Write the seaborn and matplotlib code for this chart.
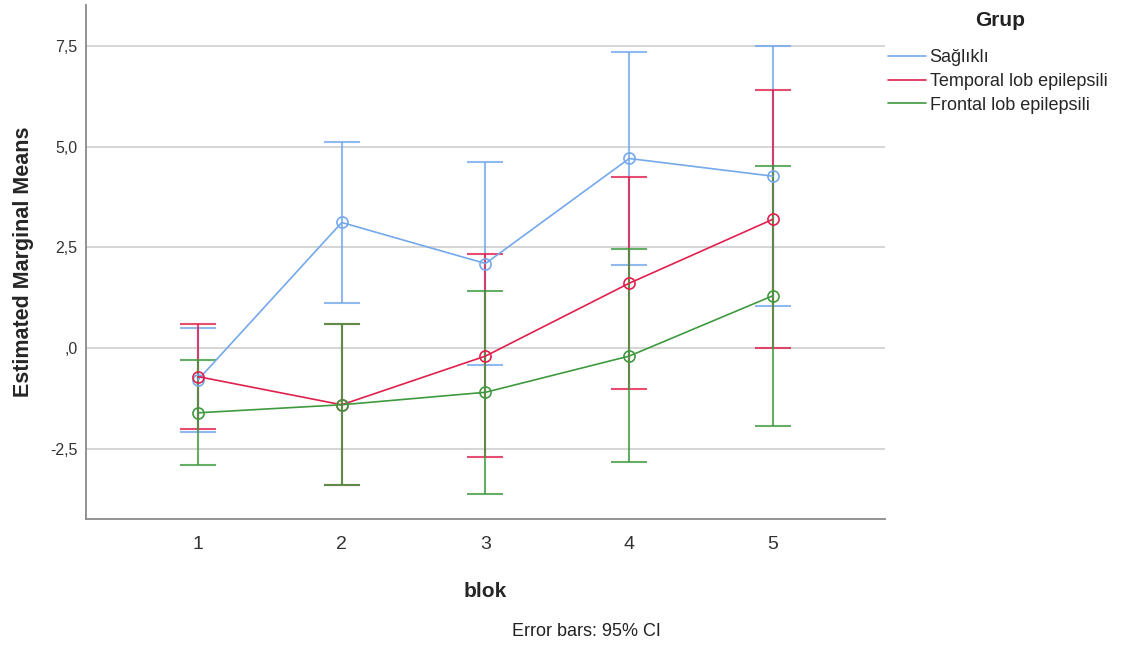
import pandas as pd
import seaborn as sns
import matplotlib.pyplot as plt
from matplotlib.lines import Line2D

# ----------------------------
# DATA
# ----------------------------
blok = [1, 2, 3, 4, 5]
groups = ["Sağlıklı", "Temporal lob epilepsili", "Frontal lob epilepsili"]

saglikli_mean = [-0.79, 3.12, 2.10, 4.71, 4.27]
saglikli_low = [-2.09, 1.12, -0.42, 2.07, 1.04]
saglikli_high = [0.51, 5.11, 4.63, 7.35, 7.50]

temporal_mean = [-0.71, -1.41, -0.20, 1.61, 3.20]
temporal_low = [-2.00, -3.40, -2.72, -1.03, -0.01]
temporal_high = [0.60, 0.60, 2.33, 4.24, 6.42]

frontal_mean = [-1.61, -1.41, -1.10, -0.20, 1.30]
frontal_low = [-2.90, -3.40, -3.62, -2.84, -1.93]
frontal_high = [-0.30, 0.60, 1.42, 2.45, 4.53]

colors = ["#74a9ec", "#e0204e", "#3f9a3f"]

means = [saglikli_mean, temporal_mean, frontal_mean]
lows = [saglikli_low, temporal_low, frontal_low]
highs = [saglikli_high, temporal_high, frontal_high]

df = pd.concat(
    [pd.DataFrame({"blok": blok, "mean": m, "low": lo, "high": hi, "Grup": g})
     for g, m, lo, hi in zip(groups, means, lows, highs)],
    ignore_index=True,
)

# ----------------------------
# PLOT
# ----------------------------
sns.set_style("white")
plt.rcParams["font.family"] = ["Liberation Sans", "DejaVu Sans"]

fig = plt.figure(figsize=(11.25, 6.48), dpi=100)
ax = fig.add_axes([0.0764, 0.199, 0.7103, 0.793])

for y in [-2.5, 0, 2.5, 5.0, 7.5]:
    ax.axhline(y, color="#d2d2d2", lw=1.3, zorder=0)

for g, c in zip(groups, colors):
    sub = df[df["Grup"] == g]
    ax.errorbar(sub["blok"], sub["mean"],
                yerr=[sub["mean"] - sub["low"], sub["high"] - sub["mean"]],
                fmt="none", ecolor=c, elinewidth=1.5, capsize=13,
                capthick=1.5, alpha=0.8, zorder=2)

for g, c in zip(groups, colors):
    sns.lineplot(data=df[df["Grup"] == g], x="blok", y="mean", color=c,
                 marker="o", markersize=8, markerfacecolor="none",
                 markeredgecolor=c, markeredgewidth=1.2, lw=1.2, ax=ax,
                 zorder=3, legend=False)

ax.set_xlim(0.22, 5.78)
ax.set_ylim(-4.25, 8.52)
ax.set_xticks(blok)
ax.set_xticklabels([str(b) for b in blok], fontsize=14, color="#333333")
ax.set_yticks([-2.5, 0, 2.5, 5.0, 7.5])
ax.set_yticklabels(["-2,5", ",0", "2,5", "5,0", "7,5"], fontsize=11.5,
                   color="#333333")
ax.tick_params(axis="x", length=0, pad=12)
ax.tick_params(axis="y", length=0, pad=6)

for s in ["top", "right"]:
    ax.spines[s].set_visible(False)
for s in ["left", "bottom"]:
    ax.spines[s].set_color("#8a8a8a")
    ax.spines[s].set_linewidth(1.3)

ax.set_xlabel("blok", fontsize=15, fontweight="bold", labelpad=21)
ax.set_ylabel("Estimated Marginal Means", fontsize=15.5, fontweight="bold",
              labelpad=12)

handles = [Line2D([], [], color=c, lw=1.2) for c in colors]
ax.legend(handles, groups, loc="upper left",
          bbox_to_anchor=(888 / 1125, 1 - 49 / 648),
          bbox_transform=fig.transFigure, frameon=False, fontsize=13,
          handlelength=2.1, handletextpad=0.2, labelspacing=0.38,
          borderaxespad=0.0, borderpad=0.0)
fig.text(1000 / 1125, 1 - 20 / 648, "Grup", ha="center", va="center",
         fontsize=15, fontweight="bold", color="#222222")

fig.text(586 / 1125, 1 - 632 / 648, "Error bars: 95% CI", ha="center",
         va="center", fontsize=13, color="#222222")

fig.savefig("out.png", dpi=100)
